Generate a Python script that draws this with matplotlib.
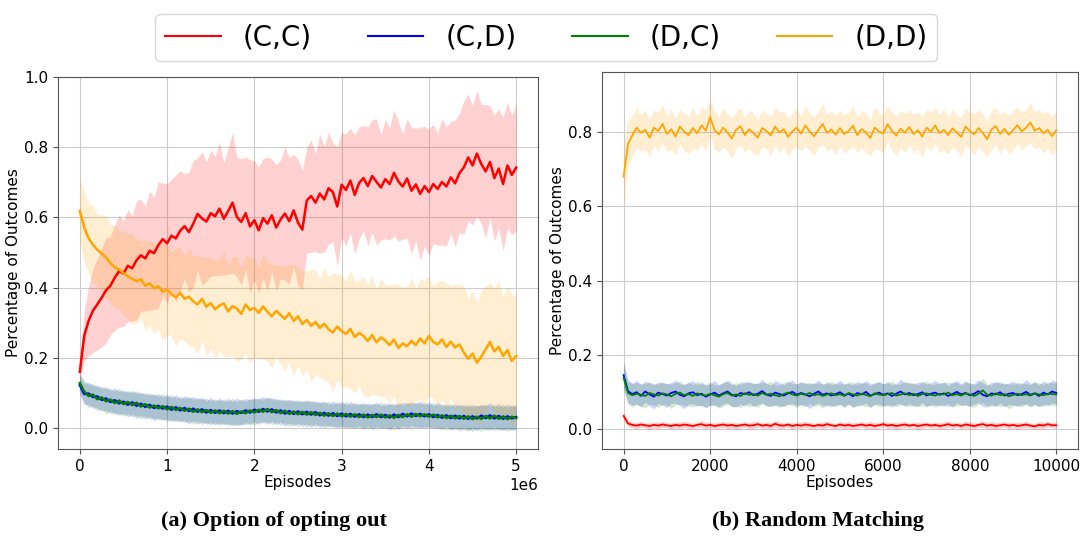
import matplotlib.pyplot as plt
import numpy as np
from matplotlib.lines import Line2D

labels = ['(C,C)', '(C,D)', '(D,C)', '(D,D)']
colors = ['red', 'blue', 'green', 'orange']

# (a) option of opting out: one sample every 50k episodes
episodes_a = np.linspace(0, 5e6, 101)

cc_a = [0.160, 0.262, 0.305, 0.334, 0.352, 0.371, 0.392, 0.405, 0.428, 0.447,
        0.440, 0.462, 0.455, 0.478, 0.492, 0.483, 0.505, 0.498, 0.521, 0.538,
        0.526, 0.548, 0.540, 0.562, 0.575, 0.558, 0.582, 0.610, 0.597, 0.588,
        0.612, 0.603, 0.625, 0.596, 0.618, 0.642, 0.601, 0.587, 0.612, 0.574,
        0.592, 0.563, 0.598, 0.582, 0.606, 0.571, 0.594, 0.611, 0.589, 0.620,
        0.585, 0.565, 0.648, 0.661, 0.642, 0.668, 0.651, 0.683, 0.672, 0.631,
        0.693, 0.678, 0.705, 0.664, 0.698, 0.712, 0.689, 0.718, 0.701, 0.685,
        0.709, 0.695, 0.727, 0.702, 0.688, 0.711, 0.676, 0.694, 0.667, 0.689,
        0.672, 0.695, 0.681, 0.701, 0.688, 0.714, 0.697, 0.726, 0.742, 0.771,
        0.748, 0.782, 0.752, 0.731, 0.758, 0.712, 0.739, 0.695, 0.748, 0.721,
        0.742]
cc_a_std = [0.030, 0.070, 0.100, 0.120, 0.130, 0.140, 0.150, 0.140, 0.150, 0.160,
            0.150, 0.160, 0.150, 0.170, 0.160, 0.150, 0.170, 0.160, 0.180, 0.160,
            0.170, 0.160, 0.180, 0.170, 0.150, 0.170, 0.180, 0.160, 0.190, 0.170,
            0.180, 0.170, 0.190, 0.160, 0.180, 0.200, 0.170, 0.180, 0.160, 0.190,
            0.170, 0.180, 0.170, 0.190, 0.160, 0.180, 0.170, 0.190, 0.180, 0.160,
            0.180, 0.170, 0.150, 0.160, 0.140, 0.170, 0.150, 0.160, 0.140, 0.170,
            0.150, 0.160, 0.150, 0.170, 0.160, 0.150, 0.170, 0.160, 0.180, 0.150,
            0.170, 0.160, 0.180, 0.170, 0.150, 0.170, 0.180, 0.160, 0.190, 0.170,
            0.180, 0.170, 0.160, 0.180, 0.170, 0.160, 0.180, 0.170, 0.190, 0.180,
            0.170, 0.180, 0.170, 0.190, 0.160, 0.180, 0.170, 0.190, 0.180, 0.170,
            0.180]
cd_a = [0.122, 0.097, 0.098, 0.088, 0.090, 0.080, 0.084, 0.074, 0.079, 0.070,
        0.075, 0.066, 0.073, 0.063, 0.069, 0.060, 0.066, 0.057, 0.063, 0.055,
        0.061, 0.052, 0.059, 0.050, 0.057, 0.048, 0.055, 0.046, 0.053, 0.044,
        0.051, 0.043, 0.050, 0.042, 0.049, 0.041, 0.048, 0.043, 0.050, 0.044,
        0.052, 0.046, 0.054, 0.047, 0.053, 0.044, 0.050, 0.041, 0.048, 0.040,
        0.047, 0.039, 0.046, 0.038, 0.045, 0.036, 0.043, 0.035, 0.042, 0.034,
        0.041, 0.033, 0.040, 0.032, 0.039, 0.031, 0.038, 0.031, 0.039, 0.031,
        0.037, 0.030, 0.038, 0.031, 0.040, 0.033, 0.041, 0.034, 0.040, 0.033,
        0.039, 0.031, 0.037, 0.029, 0.036, 0.028, 0.035, 0.027, 0.034, 0.026,
        0.033, 0.027, 0.035, 0.028, 0.036, 0.027, 0.034, 0.026, 0.033, 0.027,
        0.031]
cd_a_std = [0.028, 0.030, 0.032, 0.031, 0.033, 0.032, 0.034, 0.033, 0.035, 0.034,
            0.033, 0.035, 0.034, 0.036, 0.033, 0.035, 0.034, 0.036, 0.035, 0.033,
            0.035, 0.034, 0.036, 0.033, 0.035, 0.037, 0.034, 0.036, 0.035, 0.033,
            0.036, 0.034, 0.035, 0.033, 0.036, 0.034, 0.037, 0.035, 0.034, 0.036,
            0.034, 0.036, 0.035, 0.037, 0.034, 0.035, 0.033, 0.036, 0.034, 0.035,
            0.033, 0.035, 0.034, 0.036, 0.033, 0.035, 0.034, 0.032, 0.035, 0.034,
            0.035, 0.033, 0.036, 0.034, 0.032, 0.035, 0.033, 0.036, 0.034, 0.033,
            0.034, 0.036, 0.033, 0.035, 0.034, 0.036, 0.033, 0.035, 0.037, 0.034,
            0.035, 0.033, 0.036, 0.034, 0.032, 0.035, 0.034, 0.036, 0.033, 0.035,
            0.034, 0.036, 0.033, 0.035, 0.037, 0.034, 0.036, 0.033, 0.035, 0.034,
            0.035]
dc_a = [0.128, 0.104, 0.091, 0.095, 0.082, 0.087, 0.076, 0.081, 0.071, 0.078,
        0.068, 0.074, 0.065, 0.072, 0.061, 0.068, 0.058, 0.064, 0.056, 0.062,
        0.053, 0.060, 0.051, 0.057, 0.049, 0.055, 0.046, 0.053, 0.045, 0.051,
        0.043, 0.050, 0.042, 0.049, 0.041, 0.048, 0.040, 0.047, 0.042, 0.050,
        0.044, 0.052, 0.046, 0.054, 0.045, 0.051, 0.042, 0.049, 0.040, 0.047,
        0.039, 0.046, 0.038, 0.045, 0.037, 0.043, 0.035, 0.042, 0.034, 0.041,
        0.033, 0.040, 0.032, 0.039, 0.031, 0.038, 0.030, 0.037, 0.031, 0.038,
        0.030, 0.036, 0.029, 0.037, 0.031, 0.039, 0.032, 0.040, 0.033, 0.039,
        0.032, 0.038, 0.030, 0.036, 0.028, 0.035, 0.027, 0.034, 0.026, 0.033,
        0.025, 0.032, 0.026, 0.034, 0.027, 0.035, 0.026, 0.033, 0.025, 0.032,
        0.028]
dc_a_std = [0.027, 0.031, 0.033, 0.032, 0.034, 0.033, 0.035, 0.032, 0.034, 0.036,
            0.034, 0.033, 0.035, 0.034, 0.036, 0.033, 0.035, 0.034, 0.033, 0.036,
            0.034, 0.036, 0.033, 0.035, 0.034, 0.036, 0.035, 0.033, 0.036, 0.034,
            0.035, 0.033, 0.036, 0.034, 0.035, 0.037, 0.034, 0.036, 0.033, 0.035,
            0.036, 0.034, 0.033, 0.035, 0.036, 0.034, 0.035, 0.033, 0.036, 0.034,
            0.035, 0.033, 0.036, 0.034, 0.035, 0.033, 0.036, 0.034, 0.033, 0.035,
            0.034, 0.036, 0.033, 0.035, 0.034, 0.036, 0.034, 0.033, 0.035, 0.036,
            0.033, 0.035, 0.034, 0.036, 0.033, 0.034, 0.036, 0.034, 0.035, 0.033,
            0.034, 0.036, 0.033, 0.035, 0.034, 0.036, 0.033, 0.035, 0.034, 0.036,
            0.035, 0.033, 0.036, 0.034, 0.035, 0.033, 0.034, 0.036, 0.034, 0.035,
            0.034]
dd_a = [0.618, 0.572, 0.541, 0.522, 0.508, 0.497, 0.486, 0.470, 0.458, 0.452,
        0.441, 0.432, 0.425, 0.418, 0.424, 0.405, 0.412, 0.398, 0.404, 0.388,
        0.395, 0.381, 0.372, 0.385, 0.368, 0.374, 0.361, 0.352, 0.368, 0.345,
        0.356, 0.338, 0.349, 0.355, 0.332, 0.347, 0.340, 0.325, 0.352, 0.336,
        0.342, 0.328, 0.346, 0.331, 0.318, 0.334, 0.322, 0.311, 0.327, 0.305,
        0.318, 0.296, 0.308, 0.291, 0.302, 0.285, 0.297, 0.281, 0.272, 0.289,
        0.276, 0.268, 0.282, 0.259, 0.271, 0.262, 0.248, 0.265, 0.244, 0.258,
        0.249, 0.236, 0.252, 0.228, 0.241, 0.233, 0.248, 0.236, 0.255, 0.241,
        0.262, 0.245, 0.238, 0.252, 0.231, 0.246, 0.229, 0.238, 0.215, 0.197,
        0.212, 0.186, 0.203, 0.224, 0.245, 0.218, 0.231, 0.205, 0.222, 0.191,
        0.205]
dd_a_std = [0.090, 0.100, 0.100, 0.110, 0.100, 0.110, 0.120, 0.110, 0.120, 0.110,
            0.120, 0.120, 0.130, 0.120, 0.110, 0.130, 0.120, 0.130, 0.120, 0.140,
            0.130, 0.120, 0.140, 0.130, 0.120, 0.140, 0.130, 0.140, 0.120, 0.140,
            0.130, 0.140, 0.130, 0.150, 0.130, 0.140, 0.150, 0.130, 0.140, 0.150,
            0.140, 0.130, 0.150, 0.140, 0.150, 0.130, 0.140, 0.150, 0.140, 0.160,
            0.140, 0.150, 0.140, 0.160, 0.150, 0.140, 0.160, 0.150, 0.170, 0.150,
            0.160, 0.150, 0.170, 0.160, 0.150, 0.170, 0.160, 0.170, 0.150, 0.170,
            0.160, 0.170, 0.160, 0.180, 0.160, 0.170, 0.180, 0.160, 0.170, 0.180,
            0.170, 0.160, 0.180, 0.170, 0.180, 0.160, 0.180, 0.170, 0.190, 0.170,
            0.180, 0.170, 0.190, 0.180, 0.170, 0.180, 0.190, 0.170, 0.180, 0.190,
            0.170]

# (b) random matching: one sample every 100 episodes
episodes_b = np.arange(0, 10001, 100)

cc_b = [0.035, 0.015, 0.011, 0.009, 0.012, 0.010, 0.008, 0.011, 0.009, 0.012,
        0.010, 0.008, 0.011, 0.009, 0.012, 0.010, 0.008, 0.011, 0.013, 0.009,
        0.011, 0.008, 0.010, 0.012, 0.009, 0.011, 0.008, 0.010, 0.012, 0.009,
        0.010, 0.013, 0.009, 0.011, 0.008, 0.014, 0.010, 0.009, 0.012, 0.008,
        0.011, 0.009, 0.012, 0.010, 0.008, 0.011, 0.009, 0.013, 0.010, 0.008,
        0.012, 0.009, 0.011, 0.008, 0.010, 0.012, 0.009, 0.011, 0.008, 0.010,
        0.013, 0.009, 0.011, 0.008, 0.010, 0.012, 0.009, 0.011, 0.008, 0.010,
        0.012, 0.009, 0.011, 0.008, 0.010, 0.013, 0.009, 0.011, 0.008, 0.012,
        0.010, 0.008, 0.011, 0.013, 0.009, 0.011, 0.008, 0.010, 0.012, 0.009,
        0.011, 0.008, 0.010, 0.012, 0.009, 0.007, 0.011, 0.009, 0.013, 0.010,
        0.010]
cc_b_std = [0.010, 0.009, 0.008, 0.009, 0.008, 0.007, 0.009, 0.008, 0.010, 0.008,
            0.007, 0.009, 0.008, 0.010, 0.008, 0.009, 0.007, 0.008, 0.010, 0.009,
            0.008, 0.007, 0.009, 0.008, 0.010, 0.008, 0.009, 0.007, 0.008, 0.009,
            0.010, 0.008, 0.007, 0.009, 0.008, 0.010, 0.009, 0.008, 0.007, 0.009,
            0.008, 0.010, 0.008, 0.009, 0.007, 0.008, 0.010, 0.009, 0.008, 0.007,
            0.009, 0.008, 0.010, 0.008, 0.009, 0.007, 0.008, 0.010, 0.009, 0.008,
            0.007, 0.009, 0.008, 0.010, 0.008, 0.009, 0.007, 0.008, 0.010, 0.009,
            0.008, 0.007, 0.009, 0.008, 0.010, 0.008, 0.009, 0.007, 0.008, 0.009,
            0.010, 0.008, 0.007, 0.009, 0.008, 0.010, 0.009, 0.008, 0.007, 0.009,
            0.008, 0.010, 0.008, 0.009, 0.007, 0.008, 0.010, 0.009, 0.008, 0.007,
            0.009]
cd_b = [0.145, 0.102, 0.094, 0.099, 0.089, 0.101, 0.093, 0.087, 0.098, 0.094,
        0.090, 0.097, 0.101, 0.092, 0.088, 0.096, 0.099, 0.091, 0.095, 0.087,
        0.093, 0.098, 0.090, 0.096, 0.101, 0.092, 0.088, 0.097, 0.094, 0.099,
        0.091, 0.095, 0.102, 0.093, 0.089, 0.098, 0.094, 0.090, 0.096, 0.100,
        0.092, 0.097, 0.093, 0.088, 0.095, 0.101, 0.092, 0.096, 0.090, 0.094,
        0.099, 0.091, 0.095, 0.088, 0.097, 0.093, 0.100, 0.090, 0.094, 0.098,
        0.092, 0.096, 0.089, 0.095, 0.101, 0.093, 0.097, 0.091, 0.094, 0.099,
        0.090, 0.095, 0.098, 0.092, 0.096, 0.089, 0.094, 0.100, 0.093, 0.097,
        0.091, 0.095, 0.102, 0.092, 0.088, 0.096, 0.093, 0.099, 0.090, 0.095,
        0.097, 0.091, 0.094, 0.100, 0.092, 0.096, 0.089, 0.098, 0.093, 0.101,
        0.097]
cd_b_std = [0.035, 0.031, 0.029, 0.032, 0.030, 0.028, 0.031, 0.033, 0.029, 0.030,
            0.032, 0.028, 0.031, 0.030, 0.033, 0.029, 0.031, 0.028, 0.032, 0.030,
            0.029, 0.033, 0.030, 0.028, 0.031, 0.032, 0.029, 0.030, 0.033, 0.028,
            0.031, 0.029, 0.032, 0.030, 0.028, 0.033, 0.031, 0.029, 0.030, 0.032,
            0.028, 0.031, 0.030, 0.033, 0.029, 0.031, 0.028, 0.032, 0.030, 0.029,
            0.033, 0.030, 0.028, 0.031, 0.032, 0.029, 0.030, 0.033, 0.028, 0.031,
            0.029, 0.032, 0.030, 0.028, 0.033, 0.031, 0.029, 0.030, 0.032, 0.028,
            0.031, 0.030, 0.033, 0.029, 0.031, 0.028, 0.032, 0.030, 0.029, 0.033,
            0.030, 0.028, 0.031, 0.032, 0.029, 0.030, 0.033, 0.028, 0.031, 0.029,
            0.032, 0.030, 0.028, 0.033, 0.031, 0.029, 0.030, 0.032, 0.028, 0.031,
            0.030]
dc_b = [0.138, 0.097, 0.091, 0.095, 0.092, 0.089, 0.097, 0.093, 0.090, 0.096,
        0.093, 0.088, 0.095, 0.098, 0.091, 0.094, 0.089, 0.096, 0.092, 0.090,
        0.095, 0.091, 0.087, 0.094, 0.097, 0.090, 0.093, 0.089, 0.096, 0.092,
        0.094, 0.090, 0.097, 0.092, 0.095, 0.091, 0.088, 0.094, 0.098, 0.093,
        0.090, 0.095, 0.092, 0.097, 0.091, 0.094, 0.089, 0.093, 0.096, 0.091,
        0.094, 0.089, 0.097, 0.093, 0.090, 0.095, 0.092, 0.088, 0.096, 0.093,
        0.091, 0.094, 0.097, 0.090, 0.093, 0.096, 0.091, 0.095, 0.089, 0.094,
        0.096, 0.092, 0.090, 0.095, 0.093, 0.098, 0.091, 0.094, 0.090, 0.096,
        0.093, 0.089, 0.095, 0.104, 0.092, 0.090, 0.096, 0.091, 0.094, 0.088,
        0.092, 0.095, 0.091, 0.094, 0.090, 0.096, 0.093, 0.091, 0.095, 0.094,
        0.093]
dc_b_std = [0.034, 0.030, 0.032, 0.029, 0.031, 0.033, 0.030, 0.028, 0.032, 0.031,
            0.029, 0.033, 0.030, 0.031, 0.028, 0.032, 0.030, 0.033, 0.029, 0.031,
            0.032, 0.028, 0.031, 0.033, 0.030, 0.029, 0.032, 0.031, 0.028, 0.033,
            0.030, 0.032, 0.029, 0.031, 0.033, 0.028, 0.030, 0.032, 0.031, 0.029,
            0.033, 0.030, 0.032, 0.028, 0.031, 0.030, 0.033, 0.029, 0.032, 0.031,
            0.028, 0.032, 0.030, 0.033, 0.029, 0.031, 0.032, 0.028, 0.030, 0.033,
            0.031, 0.029, 0.032, 0.030, 0.028, 0.033, 0.031, 0.030, 0.029, 0.032,
            0.033, 0.028, 0.031, 0.030, 0.032, 0.029, 0.033, 0.031, 0.028, 0.030,
            0.032, 0.031, 0.029, 0.033, 0.030, 0.028, 0.032, 0.031, 0.030, 0.033,
            0.029, 0.031, 0.032, 0.028, 0.030, 0.033, 0.031, 0.029, 0.032, 0.030,
            0.031]
dd_b = [0.680, 0.768, 0.791, 0.812, 0.798, 0.806, 0.785, 0.812, 0.803, 0.822,
        0.795, 0.808, 0.788, 0.815, 0.801, 0.792, 0.811, 0.797, 0.818, 0.804,
        0.841, 0.805, 0.794, 0.812, 0.799, 0.783, 0.806, 0.816, 0.792, 0.808,
        0.797, 0.785, 0.811, 0.803, 0.791, 0.815, 0.799, 0.808, 0.787, 0.802,
        0.812, 0.796, 0.818, 0.801, 0.789, 0.806, 0.822, 0.798, 0.807, 0.793,
        0.811, 0.795, 0.803, 0.817, 0.792, 0.808, 0.799, 0.784, 0.812, 0.802,
        0.796, 0.821, 0.803, 0.791, 0.809, 0.798, 0.814, 0.795, 0.805, 0.788,
        0.812, 0.801, 0.818, 0.797, 0.806, 0.792, 0.810, 0.799, 0.787, 0.815,
        0.803, 0.794, 0.811, 0.798, 0.781, 0.807, 0.816, 0.795, 0.809, 0.793,
        0.805, 0.819, 0.802, 0.812, 0.826, 0.804, 0.811, 0.797, 0.806, 0.789,
        0.805]
dd_b_std = [0.080, 0.062, 0.055, 0.052, 0.049, 0.054, 0.050, 0.047, 0.053, 0.051,
            0.048, 0.055, 0.050, 0.046, 0.052, 0.049, 0.054, 0.047, 0.051, 0.056,
            0.049, 0.052, 0.047, 0.053, 0.050, 0.055, 0.048, 0.051, 0.046, 0.052,
            0.054, 0.049, 0.051, 0.047, 0.053, 0.050, 0.056, 0.048, 0.052, 0.049,
            0.051, 0.047, 0.054, 0.050, 0.052, 0.048, 0.055, 0.049, 0.051, 0.053,
            0.048, 0.052, 0.050, 0.055, 0.047, 0.051, 0.053, 0.049, 0.056, 0.050,
            0.052, 0.048, 0.051, 0.054, 0.049, 0.053, 0.047, 0.052, 0.050, 0.055,
            0.049, 0.053, 0.048, 0.051, 0.055, 0.050, 0.052, 0.047, 0.054, 0.049,
            0.051, 0.056, 0.049, 0.052, 0.048, 0.054, 0.050, 0.053, 0.047, 0.051,
            0.053, 0.049, 0.052, 0.048, 0.055, 0.050, 0.051, 0.054, 0.049, 0.052,
            0.050]


def draw_panel(ax, x, means, stds, lw):
    for mean, std, color, label in zip(means, stds, colors, labels):
        mean = np.array(mean)
        std = np.array(std)
        ax.plot(x, mean, color=color, linewidth=lw, label=label)
        ax.fill_between(x, mean - std, mean + std, color=color, alpha=0.18, linewidth=0)
    ax.grid(True, color='#cccccc', linewidth=0.8)
    ax.set_axisbelow(True)
    for s in ax.spines.values():
        s.set_color('#555555')
    ax.tick_params(labelsize=11, color='#555555')
    ax.set_xlabel('Episodes', fontsize=11, labelpad=1)
    ax.set_ylabel('Percentage of Outcomes', fontsize=11, labelpad=2)


fig = plt.figure(figsize=(10.84, 5.40), dpi=100)
ax1 = fig.add_axes([58 / 1084, 91 / 540, 480 / 1084, 372 / 540])
ax2 = fig.add_axes([602 / 1084, 91 / 540, 476 / 1084, 377 / 540])

draw_panel(ax1, episodes_a, [cc_a, cd_a, dc_a, dd_a], [cc_a_std, cd_a_std, dc_a_std, dd_a_std], 1.8)
ax1.set_xlim(-0.25e6, 5.25e6)
ax1.set_ylim(-0.06, 1.0)
ax1.set_yticks([0.0, 0.2, 0.4, 0.6, 0.8, 1.0])
ax1.xaxis.get_offset_text().set_fontsize(11)

draw_panel(ax2, episodes_b, [cc_b, cd_b, dc_b, dd_b], [cc_b_std, cd_b_std, dc_b_std, dd_b_std], 1.3)
ax2.set_xlim(-500, 10500)
ax2.set_ylim(-0.054, 0.962)
ax2.set_yticks([0.0, 0.2, 0.4, 0.6, 0.8])

handles = [Line2D([0], [0], color=c, linewidth=1.5) for c in colors]
fig.legend(handles, labels, loc='upper center', bbox_to_anchor=(0.504, 1.0), ncol=4,
           fontsize=20, frameon=True, borderpad=0.35, handletextpad=0.8, columnspacing=2.0)

fig.text(274 / 1084, 1 - 521 / 540, '(a) Option of opting out', ha='center', va='center',
         fontsize=16, fontweight='bold', family='Liberation Serif')
fig.text(818 / 1084, 1 - 521 / 540, '(b) Random Matching', ha='center', va='center',
         fontsize=16, fontweight='bold', family='Liberation Serif')

fig.savefig('out.png', dpi=100)
